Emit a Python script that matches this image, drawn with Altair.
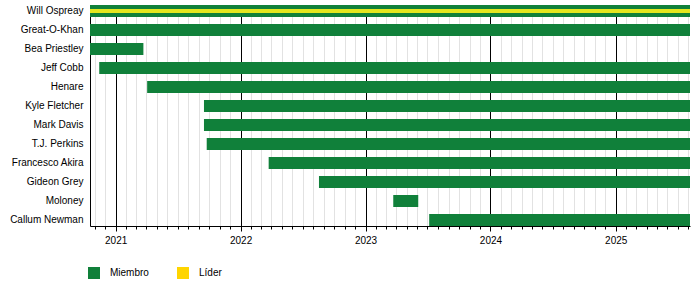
import altair as alt
import pandas as pd

# ---- data ----
names = ["Will Ospreay", "Great-O-Khan", "Bea Priestley", "Jeff Cobb", "Henare",
         "Kyle Fletcher", "Mark Davis", "T.J. Perkins", "Francesco Akira",
         "Gideon Grey", "Moloney", "Callum Newman"]
starts = ["2020-10-18", "2020-10-18", "2020-10-18", "2020-11-14", "2021-04-03",
          "2021-09-16", "2021-09-16", "2021-09-24", "2022-03-24",
          "2022-08-18", "2023-03-23", "2023-07-06"]
ends = ["2025-08-06", "2025-08-06", "2021-03-23", "2025-08-06", "2025-08-06",
        "2025-08-06", "2025-08-06", "2025-08-06", "2025-08-06",
        "2025-08-06", "2023-06-04", "2025-08-06"]
roles = ["Miembro"] * len(names)

leader_names = ["Will Ospreay"]
leader_starts = ["2020-10-18"]
leader_ends = ["2025-08-06"]

legend_labels = ["Miembro", "Líder"]
legend_colors = ["#10803a", "#ffd500"]
stripe_color = "#e4e61e"

members = pd.DataFrame({"name": names, "start": starts, "end": ends, "role": roles})
leaders = pd.DataFrame({"name": leader_names, "start": leader_starts, "end": leader_ends})

FONT = "Liberation Sans"

x_scale = alt.Scale(domain=[alt.DateTime(year=2020, month=10, date=18),
                            alt.DateTime(year=2025, month=8, date=6)], nice=False)
y_scale = alt.Scale(domain=names, paddingInner=0.368, paddingOuter=0)

x_axis = alt.Axis(
    title=None,
    tickCount=alt.TimeIntervalStep(interval="month", step=1),
    grid=True,
    gridColor=alt.condition("month(datum.value) == 0", alt.value("#000000"), alt.value("#e2e2e2")),
    gridWidth=1,
    tickSize=alt.condition("month(datum.value) == 0", alt.value(5), alt.value(3)),
    tickColor="black",
    domainColor="black",
    labelExpr="month(datum.value) == 0 ? timeFormat(datum.value, '%Y') : ''",
    labelColor="black",
    labelFont=FONT,
    labelFontSize=10,
    labelPadding=4,
    labelFlush=False,
    labelOverlap=False,
)
y_axis = alt.Axis(
    title=None, ticks=False, grid=False, domainColor="black",
    labelColor="black", labelFont=FONT, labelFontSize=10, labelPadding=7,
)

bars = alt.Chart(members).mark_bar().encode(
    x=alt.X("start:T", scale=x_scale, axis=x_axis),
    x2="end:T",
    y=alt.Y("name:N", sort=names, scale=y_scale, axis=y_axis),
    color=alt.Color(
        "role:N",
        scale=alt.Scale(domain=legend_labels, range=legend_colors),
        legend=alt.Legend(
            title=None, orient="none", legendX=-2, legendY=262,
            direction="horizontal", symbolType="square", symbolSize=144,
            symbolStrokeWidth=0, symbolOpacity=1, labelFont=FONT,
            labelFontSize=10, labelColor="black", labelOffset=10,
            columnPadding=28, padding=0,
        ),
    ),
)

stripe = alt.Chart(leaders).mark_rule(strokeWidth=4, color=stripe_color).encode(
    x=alt.X("start:T", scale=x_scale),
    x2="end:T",
    y=alt.Y("name:N", sort=names, scale=y_scale),
)

chart = alt.layer(bars, stripe).properties(
    width=600, height=221,
    autosize=alt.AutoSizeParams(type="none"),
    padding={"left": 90, "top": 5, "right": 10, "bottom": 59},
    background="white",
).configure_view(stroke=None)

chart.save("out.html", embed_options={"renderer": "svg", "actions": False})
